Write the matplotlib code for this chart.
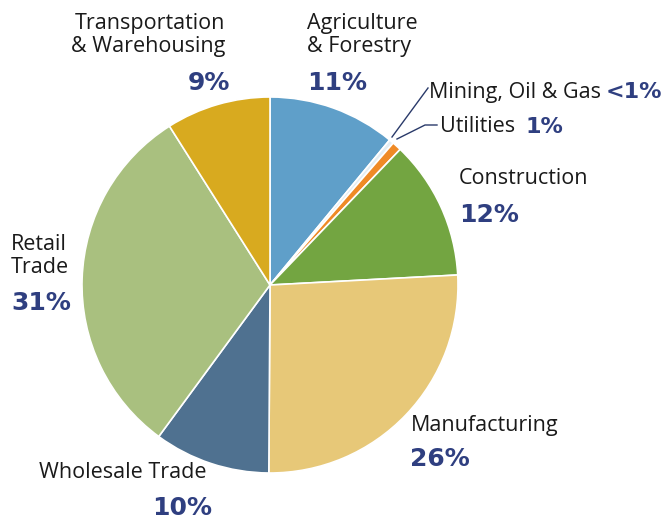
import matplotlib.pyplot as plt
from matplotlib.lines import Line2D

# industry shares, clockwise from 12 o'clock
sectors = ['Agriculture & Forestry', 'Mining, Oil & Gas', 'Utilities', 'Construction',
           'Manufacturing', 'Wholesale Trade', 'Retail Trade', 'Transportation & Warehousing']
shares = [11, 0.4, 0.8, 12, 26, 10, 31, 9]
pct_labels = ['11%', '<1%', '1%', '12%', '26%', '10%', '31%', '9%']
colors = ['#5f9fc9', '#e4edf2', '#ef8a26', '#73a541', '#e7c878', '#4f7190', '#a9c07f', '#d8aa1f']

W, H = 666, 519
NAVY = '#2f3f80'
FONT = 'Open Sans'

fig = plt.figure(figsize=(W / 100, H / 100), dpi=100)

cx, cy, r = 270, 285, 188
ax = fig.add_axes([(cx - r) / W, (H - cy - r) / H, 2 * r / W, 2 * r / H])
ax.pie(shares, colors=colors, startangle=90, counterclock=False,
       wedgeprops=dict(edgecolor='white', linewidth=1.2))
ax.set_xlim(-1, 1)
ax.set_ylim(-1, 1)
ax.set_aspect('equal')
ax.axis('off')


def fx(x):
    return x / W


def fy(y):
    return 1 - y / H


def name(x, y, s, ha='left'):
    fig.text(fx(x), fy(y), s, ha=ha, va='center', fontsize=15.5, color='#1a1a1a',
             family=FONT, linespacing=1.12)


def pct(x, y, s, ha='left', size=18):
    fig.text(fx(x), fy(y), s, ha=ha, va='center', fontsize=size, color=NAVY,
             family='DejaVu Sans', fontweight='bold')


name(225, 35, 'Transportation\n& Warehousing', ha='right')
pct(230, 83, pct_labels[7], ha='right')

name(307, 35, 'Agriculture\n& Forestry')
pct(307, 83, pct_labels[0])

name(429, 92, 'Mining, Oil & Gas')
pct(606, 92, pct_labels[1], size=16)
name(440, 127, 'Utilities')
pct(526, 127, pct_labels[2], size=16)

name(459, 179, 'Construction')
pct(459, 215, pct_labels[3])

name(411, 425, 'Manufacturing')
pct(410, 459, pct_labels[4])

name(39, 473, 'Wholesale Trade')
pct(212, 508, pct_labels[5], ha='right')

name(11, 256, 'Retail\nTrade')
pct(11, 303, pct_labels[6])

# leader lines for the two thin slices
for xs, ys in [([428, 392], [88, 137]),
               ([437, 425, 397], [125, 125, 139])]:
    fig.add_artist(Line2D([fx(v) for v in xs], [fy(v) for v in ys],
                          transform=fig.transFigure, color='#2a3a6a', linewidth=1))

fig.savefig('out.png', dpi=100, facecolor='white')
